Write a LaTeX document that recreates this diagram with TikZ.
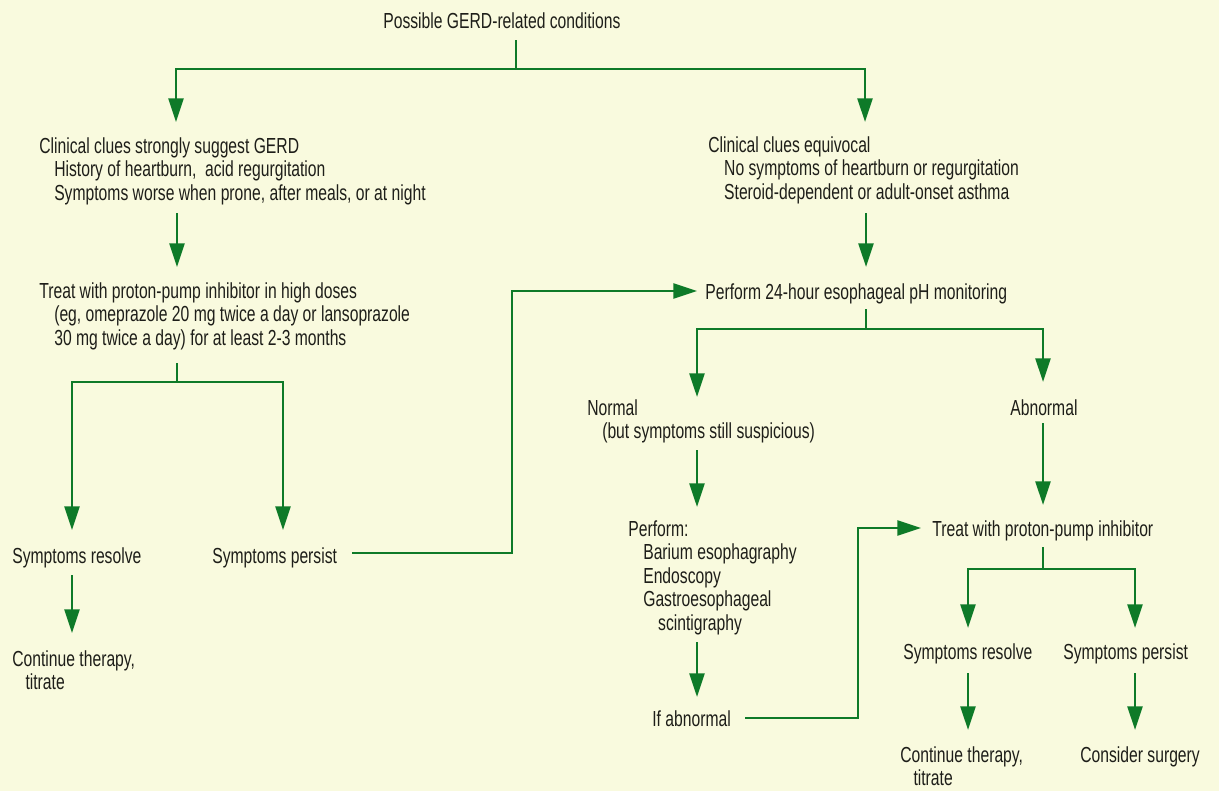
\documentclass[tikz,border=0pt]{standalone}
\usepackage{fontspec}
\setmainfont{Liberation Sans}[FakeStretch=0.72]
\usetikzlibrary{arrows.meta}

\definecolor{gerdgreen}{RGB}{14,122,40}
\definecolor{paper}{RGB}{249,250,222}
\definecolor{ink}{RGB}{30,30,25}

\begin{document}
\begin{tikzpicture}[x = 0.02cm, y = -0.02cm,
    flow/.style = {draw = gerdgreen, line width = 1.5pt,
        -{Triangle[length = 13.5pt, width = 8.5pt]}},
    link/.style = {draw = gerdgreen, line width = 1.5pt},
    txt/.style = {inner sep = 0pt, anchor = north west, align = left,
        text = ink, font = \fontsize{12.4}{13.4}\selectfont}]

        % Paper and bounding box.
        \fill[paper] (0, 0) rectangle (1219, 791);
        \useasboundingbox (0, 0) rectangle (1219, 791);

        % All of the texts.
        \node[txt] (title) at (383, 12) {Possible GERD-related conditions};
        \node[txt] (cc) at (39, 137) {Clinical clues strongly suggest GERD\\
            \hspace*{8.5pt}History of heartburn,\ \ acid regurgitation\\
            \hspace*{8.5pt}Symptoms worse when prone, after meals, or at night};
        \node[txt] (ce) at (708, 136) {Clinical clues equivocal\\
            \hspace*{9pt}No symptoms of heartburn or regurgitation\\
            \hspace*{9pt}Steroid-dependent or adult-onset asthma};
        \node[txt] (ppi) at (39, 282) {Treat with proton-pump inhibitor in high doses\\
            \hspace*{8.5pt}(eg, omeprazole 20 mg twice a day or lansoprazole\\
            \hspace*{8.5pt}30 mg twice a day) for at least 2-3 months};
        \node[txt] (ph) at (705, 283) {Perform 24-hour esophageal pH monitoring};
        \node[txt] (res1) at (12, 547) {Symptoms resolve};
        \node[txt] (per1) at (212, 547) {Symptoms persist};
        \node[txt] (cont1) at (12, 650) {Continue therapy,\\ \hspace*{7.5pt}titrate};
        \node[txt] (norm) at (587, 399) {Normal\\
            \hspace*{8.5pt}(but symptoms still suspicious)};
        \node[txt] (abn) at (1010, 399) {Abnormal};
        \node[txt] (perf) at (628, 520) {Perform:\\
            \hspace*{8.5pt}Barium esophagraphy\\
            \hspace*{8.5pt}Endoscopy\\
            \hspace*{8.5pt}Gastroesophageal\\
            \hspace*{17pt}scintigraphy};
        \node[txt] (ifab) at (652, 710) {If abnormal};
        \node[txt] (ppi2) at (932, 520) {Treat with proton-pump inhibitor};
        \node[txt] (res2) at (903, 643) {Symptoms resolve};
        \node[txt] (per2) at (1063, 643) {Symptoms persist};
        \node[txt] (cont2) at (900, 746) {Continue therapy,\\ \hspace*{7.5pt}titrate};
        \node[txt] (surg) at (1080, 746) {Consider surgery};

        % Coordinates where the connectors start, bend and end.
        \coordinate (title-out) at (516, 40);
        \coordinate (title-split) at (516, 69);
        \coordinate (cc-in) at (176, 122);
        \coordinate (ce-in) at (865, 122);
        \coordinate (cc-out) at (177, 213);
        \coordinate (ppi-in) at (177, 267);
        \coordinate (ce-out) at (866, 213);
        \coordinate (ph-top) at (866, 267);
        \coordinate (ppi-out) at (177, 363);
        \coordinate (ppi-split) at (177, 382);
        \coordinate (res1-in) at (72, 530);
        \coordinate (per1-in) at (283, 530);
        \coordinate (res1-out) at (72, 575);
        \coordinate (cont1-in) at (72, 633);
        \coordinate (per1-out) at (352, 553);
        \coordinate (per1-bend) at (512, 553);
        \coordinate (ph-in) at (697, 291);
        \coordinate (ph-out) at (866, 309);
        \coordinate (ph-split) at (866, 329);
        \coordinate (norm-in) at (697, 397);
        \coordinate (abn-in) at (1043, 382);
        \coordinate (norm-out) at (697, 450);
        \coordinate (perf-in) at (697, 507);
        \coordinate (perf-out) at (697, 642);
        \coordinate (ifab-in) at (697, 697);
        \coordinate (ifab-out) at (745, 718);
        \coordinate (ifab-bend) at (858, 718);
        \coordinate (ppi2-in) at (921, 528);
        \coordinate (abn-out) at (1043, 423);
        \coordinate (ppi2-top) at (1043, 505);
        \coordinate (ppi2-out) at (1043, 547);
        \coordinate (ppi2-split) at (1043, 569);
        \coordinate (res2-in) at (968, 628);
        \coordinate (per2-in) at (1135, 628);
        \coordinate (res2-out) at (968, 673);
        \coordinate (cont2-in) at (968, 730);
        \coordinate (per2-out) at (1135, 673);
        \coordinate (surg-in) at (1135, 730);

        % First split.
        \draw[link] (title-out) to (title-split);
        \draw[flow] (title-split) -| (cc-in);
        \draw[flow] (title-split) -| (ce-in);

        % Left branch.
        \draw[flow] (cc-out) to (ppi-in);
        \draw[link] (ppi-out) to (ppi-split);
        \draw[flow] (ppi-split) -| (res1-in);
        \draw[flow] (ppi-split) -| (per1-in);
        \draw[flow] (res1-out) to (cont1-in);
        \draw[flow] (per1-out) to (per1-bend) |- (ph-in);

        % Right branch.
        \draw[flow] (ce-out) to (ph-top);
        \draw[link] (ph-out) to (ph-split);
        \draw[flow] (ph-split) -| (norm-in);
        \draw[flow] (ph-split) -| (abn-in);
        \draw[flow] (norm-out) to (perf-in);
        \draw[flow] (perf-out) to (ifab-in);
        \draw[flow] (ifab-out) to (ifab-bend) |- (ppi2-in);
        \draw[flow] (abn-out) to (ppi2-top);
        \draw[link] (ppi2-out) to (ppi2-split);
        \draw[flow] (ppi2-split) -| (res2-in);
        \draw[flow] (ppi2-split) -| (per2-in);
        \draw[flow] (res2-out) to (cont2-in);
        \draw[flow] (per2-out) to (surg-in);
    \end{tikzpicture}
\end{document}
